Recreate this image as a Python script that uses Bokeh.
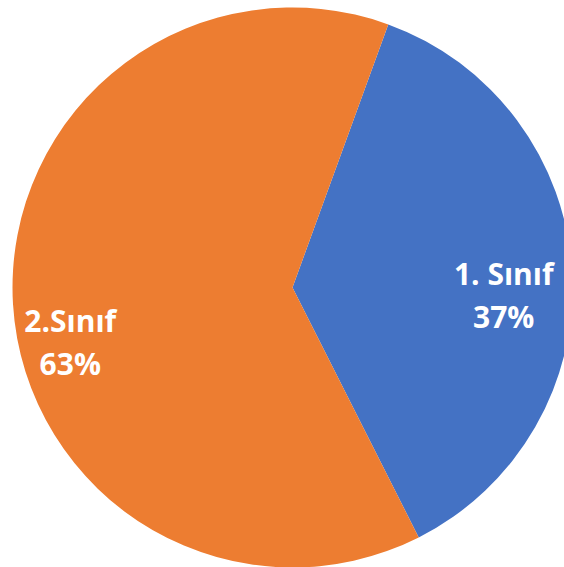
import math
from bokeh.plotting import figure
from bokeh.models import Range1d, ColumnDataSource
from bokeh.core.properties import value
from bokeh.embed import file_html
from bokeh.resources import INLINE

# data
categories = ["1. Sınıf", "2.Sınıf"]
shares = [37, 63]
colors = ["#4472C4", "#ED7D31"]
first_slice_angle = 20  # degrees clockwise from 12 o'clock

W, H = 564, 567
cx, cy, R = 292, 280, 280

total = sum(shares)
starts, ends, mids = [], [], []
acc = first_slice_angle
for s in shares:
    a0 = acc
    a1 = acc + 360.0 * s / total
    # bokeh: counter-clockwise from +x
    starts.append(math.radians(90 - a1))
    ends.append(math.radians(90 - a0))
    mids.append((a0 + a1) / 2)
    acc = a1

src = ColumnDataSource(dict(start=starts, end=ends, color=colors,
                            x=[cx] * len(shares), y=[cy] * len(shares)))

p = figure(width=W, height=H, x_range=Range1d(0, W), y_range=Range1d(0, H),
           min_border=0, x_axis_type=None, y_axis_type=None,
           toolbar_location=None, output_backend="svg")
p.outline_line_color = None
p.grid.visible = False
p.background_fill_color = "white"
p.border_fill_color = "white"

p.wedge(x="x", y="y", radius=R, start_angle="start", end_angle="end",
        color="color", line_color=None, source=src)

lab_r = 0.77 * R
label_dx = [-4, -7]    # best-fit nudges of each label block (px)
label_dy = [1, -20]
pct = [f"{round(100 * s / total)}%" for s in shares]
lx = [cx + lab_r * math.sin(math.radians(m)) + d for m, d in zip(mids, label_dx)]
ly = [cy + lab_r * math.cos(math.radians(m)) + d for m, d in zip(mids, label_dy)]

lsrc = ColumnDataSource(dict(x=lx, y=ly, name=categories, pct=pct))
common = dict(text_color="white", text_font=value("Open Sans"),
              text_font_style="bold", text_font_size="30px", text_align="center",
              text_baseline="alphabetic")
p.text(x="x", y="y", text="name", source=lsrc, **common)
p.text(x="x", y="y", text="pct", source=lsrc, y_offset=43, **common)

open("out.html", "w").write(file_html(p, INLINE))
